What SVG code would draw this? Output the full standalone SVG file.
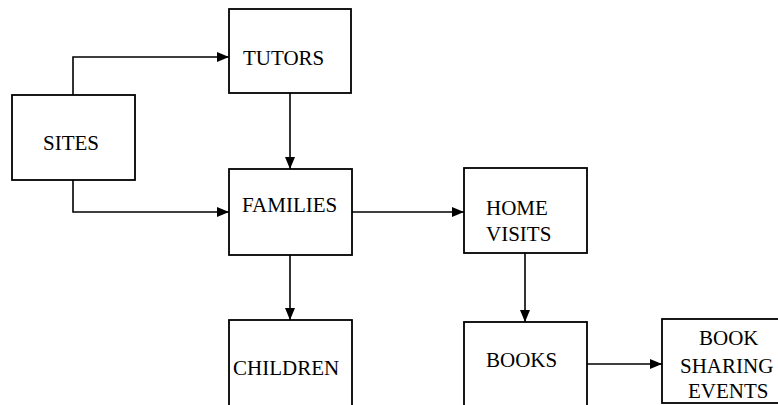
<svg xmlns="http://www.w3.org/2000/svg" width="778" height="405" viewBox="0 0 778 405">
  <style>
    .box { fill: #fff; stroke: #000; stroke-width: 1.8; }
    .lbl { font-family: "Liberation Serif", "Times New Roman", serif; font-size: 21px; fill: #000; }
    .wire { fill: none; stroke: #000; stroke-width: 1.6; marker-end: url(#arrow); }
  </style>
  <defs>
    <marker id="arrow" viewBox="0 0 12 10" refX="12" refY="5" markerWidth="12" markerHeight="10" markerUnits="userSpaceOnUse" orient="auto">
      <path d="M0,0 L12,5 L0,10 Z" fill="#000"/>
    </marker>
  </defs>
  <rect width="778" height="405" fill="#fff"/>

  <g id="connectors">
    <path class="wire" d="M73,95 V57 H229"/>
    <path class="wire" d="M73,180 V212 H229"/>
    <path class="wire" d="M290,93 V169"/>
    <path class="wire" d="M352,212 H464"/>
    <path class="wire" d="M290,255 V320"/>
    <path class="wire" d="M525,253 V322"/>
    <path class="wire" d="M587,364 H662"/>
  </g>

  <g id="sites">
    <rect class="box" x="12" y="95" width="123" height="85"/>
    <text class="lbl" x="43" y="150">SITES</text>
  </g>
  <g id="tutors">
    <rect class="box" x="229" y="9" width="122" height="84"/>
    <text class="lbl" x="243" y="65">TUTORS</text>
  </g>
  <g id="families">
    <rect class="box" x="229" y="169" width="123" height="86"/>
    <text class="lbl" x="242" y="212">FAMILIES</text>
  </g>
  <g id="home-visits">
    <rect class="box" x="464" y="168" width="123" height="85"/>
    <text class="lbl" x="486" y="215">HOME</text>
    <text class="lbl" x="486" y="241">VISITS</text>
  </g>
  <g id="children">
    <rect class="box" x="229" y="320" width="123" height="95"/>
    <text class="lbl" x="233" y="375">CHILDREN</text>
  </g>
  <g id="books">
    <rect class="box" x="464" y="322" width="123" height="93"/>
    <text class="lbl" x="486" y="367">BOOKS</text>
  </g>
  <g id="book-sharing-events">
    <rect class="box" x="662" y="319" width="120" height="84"/>
    <text class="lbl" x="699" y="345">BOOK</text>
    <text class="lbl" x="680" y="373">SHARING</text>
    <text class="lbl" x="688" y="398">EVENTS</text>
  </g>
</svg>
